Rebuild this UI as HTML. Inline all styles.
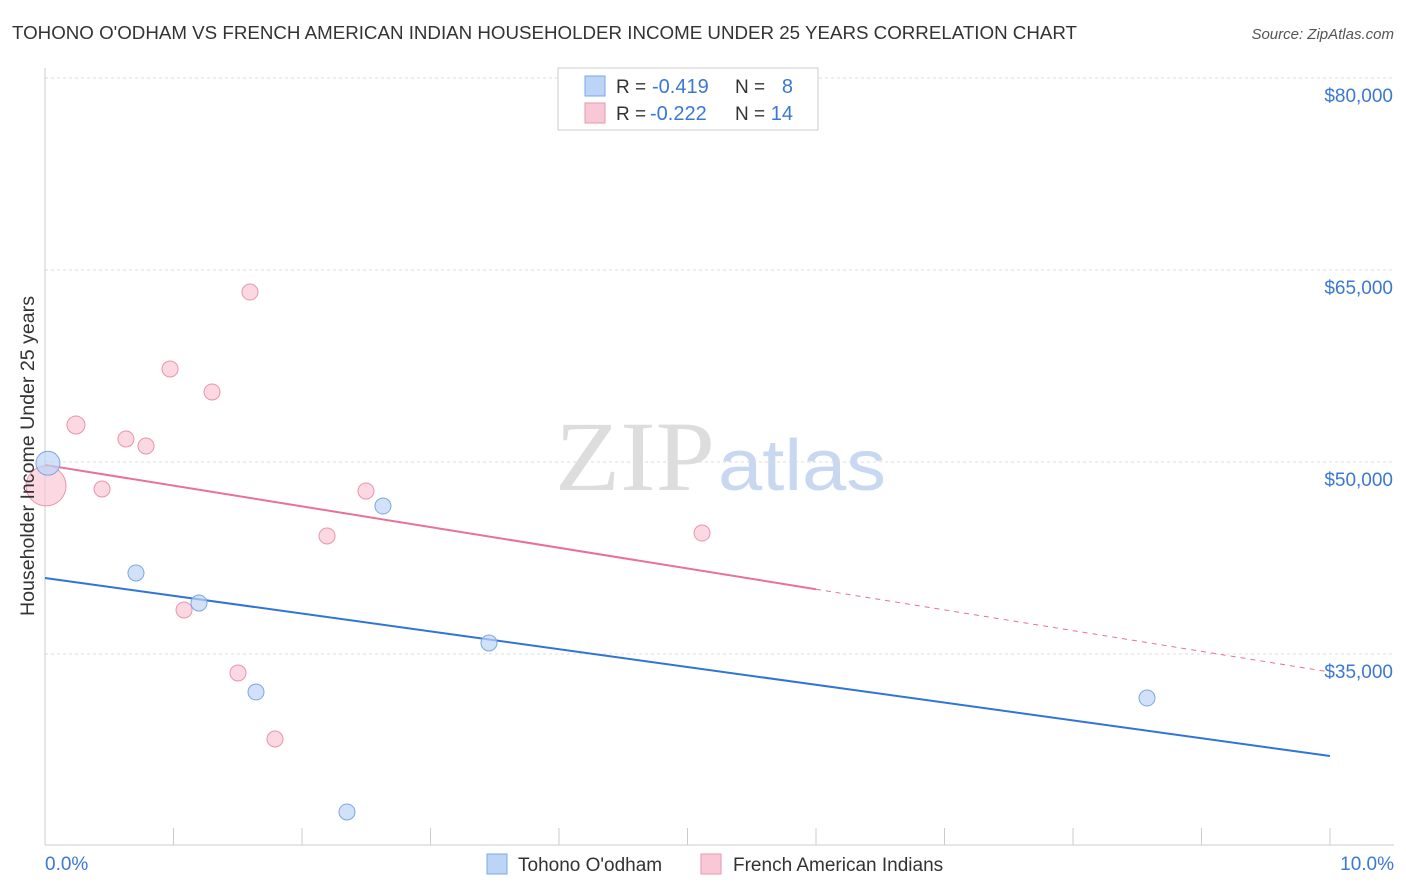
<!DOCTYPE html>
<html><head><meta charset="utf-8"><style>
body{margin:0;background:#fff;font-family:"Liberation Sans",sans-serif}
svg{display:block}
</style></head><body>
<svg width="1406" height="892">
<text x="12" y="39" font-size="18" fill="#333" textLength="1065" lengthAdjust="spacingAndGlyphs">TOHONO O'ODHAM VS FRENCH AMERICAN INDIAN HOUSEHOLDER INCOME UNDER 25 YEARS CORRELATION CHART</text>
<text x="1394" y="39" font-size="15" fill="#555" text-anchor="end" font-style="italic">Source: ZipAtlas.com</text>
<text x="555" y="490" font-size="100" fill="#ddd" textLength="160" lengthAdjust="spacingAndGlyphs" font-family="Liberation Serif">ZIP</text>
<text x="718" y="490" font-size="72" fill="#c8d8f0" textLength="168" lengthAdjust="spacingAndGlyphs">atlas</text>
<g id="grid"></g><g id="axes"></g><g id="lines"></g><g id="pts"></g>
<text transform="translate(34,456) rotate(-90)" font-size="19" fill="#333" text-anchor="middle" textLength="320" lengthAdjust="spacingAndGlyphs">Householder Income Under 25 years</text>
<text x="45" y="870" font-size="19" fill="#3a78d4">0.0%</text>
<text x="1394" y="870" font-size="19" fill="#3a78d4" text-anchor="end">10.0%</text>
<g>
<rect x="558" y="68" width="260" height="62" fill="#fff" stroke="#ccc"/>
<rect x="585" y="76" width="20" height="20" fill="#bcd4f5" stroke="#7aa7e6"/>
<rect x="585" y="103" width="20" height="20" fill="#f9c8d6" stroke="#ea94ae"/>
<text x="616" y="93" font-size="19" fill="#333">R =</text>
<text x="652" y="93" font-size="20" fill="#3a78d4">-0.419</text>
<text x="735" y="93" font-size="19" fill="#333">N =</text>
<text x="793" y="93" font-size="20" fill="#3a78d4" text-anchor="end">8</text>
<text x="616" y="120" font-size="19" fill="#333">R =</text>
<text x="650" y="120" font-size="20" fill="#3a78d4">-0.222</text>
<text x="735" y="120" font-size="19" fill="#333">N =</text>
<text x="793" y="120" font-size="20" fill="#3a78d4" text-anchor="end">14</text>
</g>
<g>
<rect x="487" y="854" width="20" height="20" fill="#bcd4f5" stroke="#7aa7e6"/>
<text x="518" y="871" font-size="19" fill="#333">Tohono O'odham</text>
<rect x="701" y="854" width="20" height="20" fill="#f9c8d6" stroke="#ea94ae"/>
<text x="733" y="871" font-size="19" fill="#333">French American Indians</text>
</g>
</svg>
<script>
const yTicks=[35000,50000,65000,80000];
const yTickLabels=["$35,000","$50,000","$65,000","$80,000"];
const blueX=[0.023,0.708,1.198,1.642,2.350,2.630,3.455,8.576];
const blueY=[49900,41330,38980,32030,22660,46560,35860,31560];
const blueR=[12,8,8,8,8,8,8,8];
const pinkX=[0.008,0.241,0.444,0.630,0.786,0.973,1.300,1.595,1.082,1.502,1.790,2.195,2.498,5.113];
const pinkY=[48130,52890,47890,51800,51250,57270,55470,63280,38440,33520,28360,44220,47730,44450];
const pinkR=[20,9,8,8,8,8,8,8,8,8,8,8,8,8];
const blueTrend=[40940,27030];
const pinkTrend=[49770,33590];
const pinkSolidEnd=6.0;
const NS="http://www.w3.org/2000/svg";
const X=v=>45+v/10*1285;
const Y=v=>78+(80000-v)*192/15000;
function mk(t,a,p){const e=document.createElementNS(NS,t);for(const k in a)e.setAttribute(k,a[k]);document.getElementById(p).appendChild(e);return e;}
yTicks.forEach((t,i)=>{
 const l=mk('line',{x1:45,x2:1394,y1:Y(t),y2:Y(t),stroke:'#ddd','stroke-dasharray':'3,3'},'grid');
 
 
 const tx=mk('text',{x:1393,y:Y(t)+24,'font-size':19,fill:'#3a78d4','text-anchor':'end'},'grid');
 tx.textContent=yTickLabels[i];
 
 
});
const ax=mk('line',{x1:45,x2:45,y1:68,y2:845,stroke:'#ccc'},'axes');


const bx=mk('line',{x1:45,x2:1394,y1:845,y2:845,stroke:'#ccc'},'axes');


for(let i=1;i<=10;i++){const t=mk('line',{x1:X(i),x2:X(i),y1:828,y2:845,stroke:'#ccc'},'axes');
 
 }
const lerp=(a,v)=>a[0]+(a[1]-a[0])*v/10;
const bl=mk('line',{x1:X(0),y1:Y(blueTrend[0]),x2:X(10),y2:Y(blueTrend[1]),stroke:'#2f74d8','stroke-width':2},'lines');


const pl=mk('line',{x1:X(0),y1:Y(pinkTrend[0]),x2:X(pinkSolidEnd),y2:Y(lerp(pinkTrend,pinkSolidEnd)),stroke:'#e8709a','stroke-width':2},'lines');


const pd=mk('line',{x1:X(pinkSolidEnd),y1:Y(lerp(pinkTrend,pinkSolidEnd)),x2:X(10),y2:Y(pinkTrend[1]),stroke:'#e8709a','stroke-width':1,'stroke-dasharray':'5,5'},'lines');


pinkX.forEach((x,i)=>{const c=mk('circle',{cx:X(x),cy:Y(pinkY[i]),r:pinkR[i],fill:'#f9c8d6','fill-opacity':0.7,stroke:'#ea94ae'},'pts');
 
 });
blueX.forEach((x,i)=>{const c=mk('circle',{cx:X(x),cy:Y(blueY[i]),r:blueR[i],fill:'#bcd4f5','fill-opacity':0.7,stroke:'#7aa7e6'},'pts');
 
 });
</script>
</body></html>
